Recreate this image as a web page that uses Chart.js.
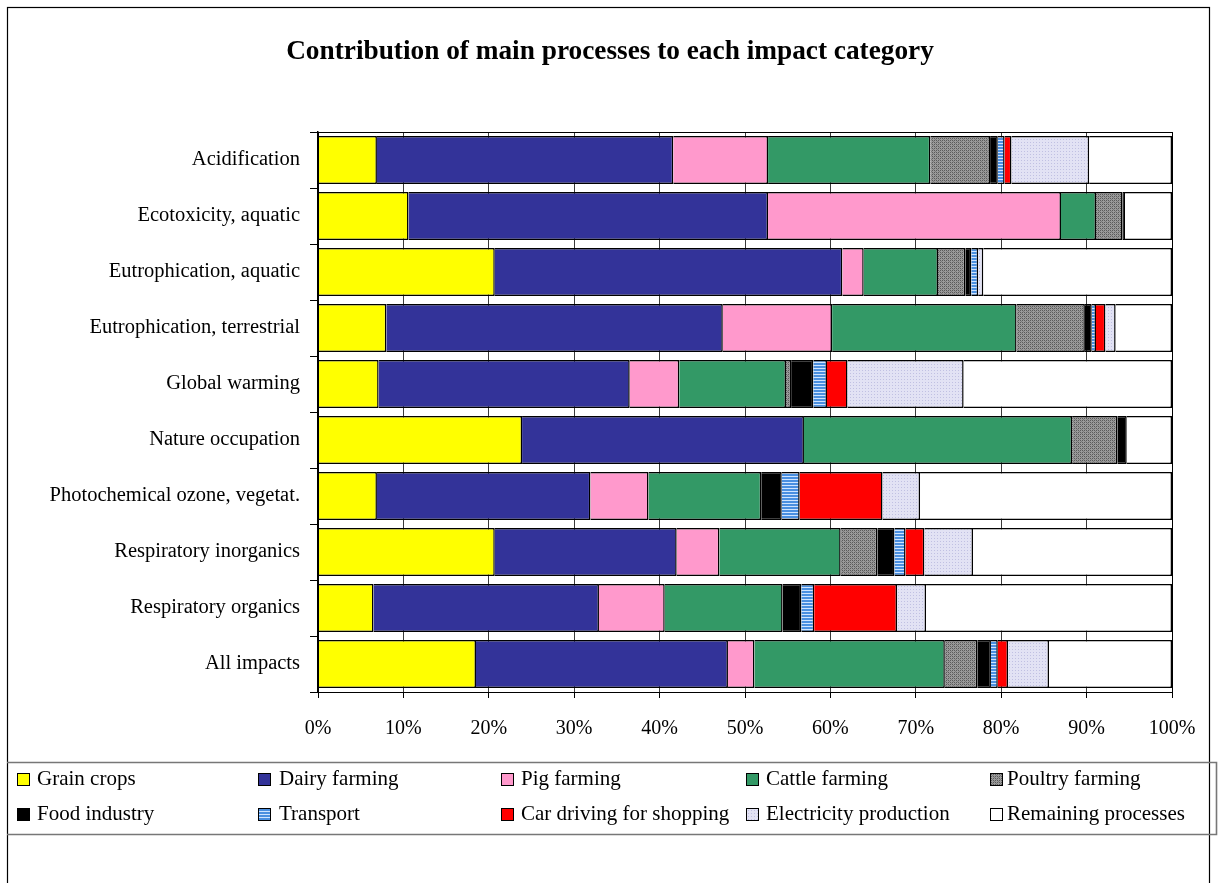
<!DOCTYPE html>
<html><head><meta charset="utf-8">
<script src="https://cdn.jsdelivr.net/npm/chart.js@4.4.1/dist/chart.umd.min.js"></script>
<style>
html,body{margin:0;padding:0;background:#fff;}
#wrap{position:relative;width:1219px;height:883px;overflow:hidden;}
canvas{position:absolute;left:0;top:0;}
.lg{position:absolute;font-family:'Liberation Serif','Times New Roman',serif;font-size:21px;line-height:24px;white-space:nowrap;color:#000;}
.sw{position:absolute;width:11px;height:11px;border:1px solid #000;}
</style></head><body><div id="wrap"><canvas id="c" width="1219" height="883"></canvas><div id="legend"></div></div>
<script>
const categories = ["Acidification","Ecotoxicity, aquatic","Eutrophication, aquatic","Eutrophication, terrestrial","Global warming","Nature occupation","Photochemical ozone, vegetat.","Respiratory inorganics","Respiratory organics","All impacts"];
const processNames = ["Grain crops","Dairy farming","Pig farming","Cattle farming","Poultry farming","Food industry","Transport","Car driving for shopping","Electricity production","Remaining processes"];
const grainCrops     = [6.9,10.6,20.7,8.0,7.1,23.9,6.9,20.7,6.5,18.5];
const dairyFarming   = [34.7,42.1,40.7,39.4,29.4,33.0,25.0,21.3,26.4,29.5];
const pigFarming     = [11.1,34.3,2.5,12.8,5.8,0,6.8,5.0,7.7,3.1];
const cattleFarming  = [19.0,4.1,8.7,21.6,12.5,31.4,13.2,14.2,13.8,22.3];
const poultryFarming = [7.0,3.1,3.2,8.0,0.6,5.3,0,4.3,0,3.8];
const foodIndustry   = [0.9,0.3,0.7,0.8,2.6,1.1,2.4,2.0,2.2,1.6];
const transport      = [0.8,0,0.8,0.5,1.6,0,2.1,1.3,1.5,0.8];
const carDriving     = [0.8,0,0,1.1,2.4,0,9.7,2.2,9.7,1.2];
const electricity    = [9.1,0,0.6,1.2,13.6,0,4.4,5.7,3.4,4.8];
const remaining      = [9.7,5.5,22.1,6.6,24.4,5.3,29.5,23.3,28.8,14.4];
const xTickLabels = ["0%","10%","20%","30%","40%","50%","60%","70%","80%","90%","100%"];

const FONT = "'Liberation Serif','Times New Roman',serif";

function makePattern(w, h, draw){
  const cv = document.createElement('canvas'); cv.width = w; cv.height = h;
  const g = cv.getContext('2d'); draw(g);
  return cv;
}
const poultryCv = makePattern(4,4,g=>{
  g.fillStyle='#9a9a9a'; g.fillRect(0,0,4,4);
  g.fillStyle='#5a5a5a'; g.fillRect(0,0,1,1); g.fillRect(2,2,1,1); g.fillRect(2,0,1,1); g.fillRect(0,2,1,1);
  g.fillStyle='#7a7a7a'; g.fillRect(1,1,1,1); g.fillRect(3,3,1,1);
});
const transportCv = makePattern(4,3,g=>{
  g.fillStyle='#4a8fe0'; g.fillRect(0,0,4,2);
  g.fillStyle='#cfe4ff'; g.fillRect(0,2,4,1);
});
const elecCv = makePattern(3,3,g=>{
  g.fillStyle='#e2e2f4'; g.fillRect(0,0,3,3);
  g.fillStyle='#c0c0e2'; g.fillRect(1,1,1,1);
});
const ctx = document.getElementById('c').getContext('2d');
const poultryPat = ctx.createPattern(poultryCv,'repeat');
const transportPat = ctx.createPattern(transportCv,'repeat');
const elecPat = ctx.createPattern(elecCv,'repeat');

const seriesValues = [grainCrops,dairyFarming,pigFarming,cattleFarming,poultryFarming,foodIndustry,transport,carDriving,electricity,remaining];
const fills = ['#FFFF00','#333399','#FF99CC','#339966',poultryPat,'#000000',transportPat,'#FF0000',elecPat,'#FFFFFF'];
const swatchCss = ['#FFFF00','#333399','#FF99CC','#339966','url('+poultryCv.toDataURL()+')','#000000','url('+transportCv.toDataURL()+')','#FF0000','url('+elecCv.toDataURL()+')','#FFFFFF'];

const datasets = processNames.map((n,i)=>({
  label:n, data:seriesValues[i], backgroundColor:fills[i], borderColor:'#000', borderWidth:1.5,
  barPercentage:0.857, categoryPercentage:1.0
}));

const framePlugin = {
  id:'frame',
  beforeDraw(chart){
    const c = chart.ctx; c.save(); c.fillStyle='#fff'; c.fillRect(0,0,chart.width,chart.height); c.restore();
  },
  afterDraw(chart){
    const c = chart.ctx, a = chart.chartArea;
    c.save();
    c.strokeStyle='#000'; c.lineWidth=1;
    c.strokeRect(a.left+0.5, a.top+0.5, a.right-a.left, a.bottom-a.top);
    c.strokeStyle='#000'; c.lineWidth=1.2;
    c.strokeRect(7.5,7.5,1202,900);
    c.strokeStyle='#777'; c.lineWidth=1.6;
    c.beginPath();
    c.moveTo(7,762.5); c.lineTo(1216.5,762.5); c.lineTo(1216.5,834.5); c.lineTo(7,834.5);
    c.stroke();
    c.fillStyle='#000'; c.font='bold 27.3px '+FONT; c.textAlign='center'; c.textBaseline='middle';
    c.fillText('Contribution of main processes to each impact category', 610, 52);
    c.restore();
  }
};

new Chart(ctx,{
  type:'bar',
  data:{labels:categories, datasets},
  options:{
    indexAxis:'y', responsive:false, animation:false, devicePixelRatio:1,
    layout:{padding:{left:7,right:47,top:132,bottom:0}},
    plugins:{legend:{display:false}, tooltip:{enabled:false}, title:{display:false}},
    scales:{
      x:{stacked:true, min:0, max:100,
        ticks:{stepSize:10, color:'#000', font:{family:FONT,size:20}, padding:19,
          callback:(v,i)=>xTickLabels[i]},
        grid:{color:'#3a3a3a', lineWidth:1, tickLength:6, tickColor:'#000', drawTicks:true},
        border:{display:true,color:'#000',width:1},
        afterFit(s){ s.height = 883-692; }
      },
      y:{stacked:true,
        ticks:{color:'#000', font:{family:FONT,size:20.5}, padding:10},
        grid:{drawOnChartArea:false, drawTicks:true, tickLength:8, color:'#000', offset:true},
        border:{display:true,color:'#000',width:1.5},
        afterFit(s){ s.width = 318-7; }
      }
    }
  },
  plugins:[framePlugin]
});

// legend
const legendPos = [
  [17,37,779],[258,279,779],[501,521,779],[746,766,779],[990,1007,779],
  [17,37,814],[258,279,814],[501,521,814],[746,766,814],[990,1007,814]
];
const lg = document.getElementById('legend');
processNames.forEach((n,i)=>{
  const [bx,tx,cy] = legendPos[i];
  const sw = document.createElement('div'); sw.className='sw';
  sw.style.left=bx+'px'; sw.style.top=(cy-6)+'px'; sw.style.background=swatchCss[i];
  lg.appendChild(sw);
  const t = document.createElement('div'); t.className='lg'; t.textContent=n;
  t.style.left=tx+'px'; t.style.top=(cy-13)+'px';
  lg.appendChild(t);
});
</script></body></html>
